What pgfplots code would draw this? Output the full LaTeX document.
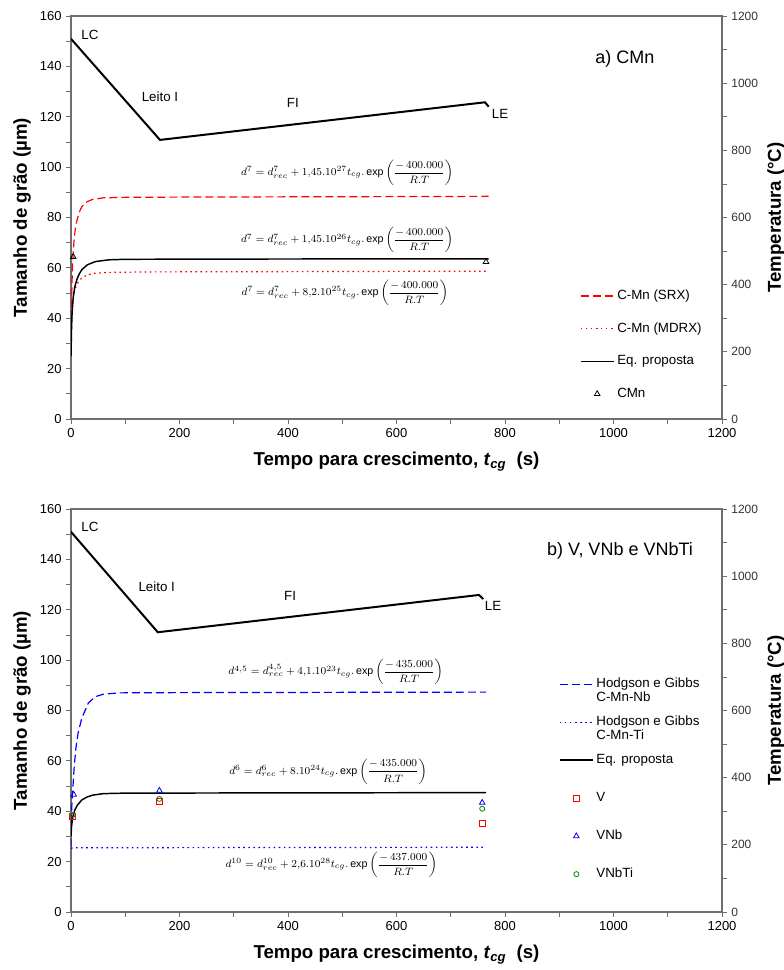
\documentclass[border=0pt]{standalone}
\usepackage{fontspec}
\setmainfont{Liberation Sans}
\usepackage{amsmath}
\usepackage{pgfplots}
\pgfplotsset{compat=1.18}

\definecolor{axgray}{RGB}{110,110,110}
\definecolor{mkgreen}{RGB}{0,140,0}

\tikzset{
  eqtext/.style={font=\fontsize{8}{10}\selectfont},
  lbl/.style={font=\fontsize{10}{12}\selectfont},
}

\pgfplotsset{
  common/.style={
    scale only axis, width=488.25pt, height=302.25pt,
    xmin=0, xmax=1200,
    tick align=outside,
    major tick length=3.5pt, minor tick length=3.5pt,
    axis line style={axgray, line width=0.8pt}, tick style={axgray, line width=0.6pt},
    /pgf/number format/assume math mode=true,
    /pgf/number format/1000 sep={},
    label style={font=\fontsize{14}{16}\selectfont\bfseries},
  },
  panel/.style={
    common,
    ymin=0, ymax=160,
    xtick={0,200,...,1200}, minor x tick num=1,
    ytick={0,20,...,160}, minor y tick num=1,
    xtick pos=bottom, ytick pos=left,
    tick label style={font=\fontsize{9.75}{11}\selectfont},
    xlabel={Tempo para crescimento, \textit{t}\textsubscript{\textit{cg}}\ \ (s)},
    ylabel={Tamanho de grão (µm)},
    xlabel style={yshift=-4pt},
    legend cell align=left,
    legend image code/.code={\draw[mark repeat=2,mark phase=2,##1] plot coordinates {(0pt,0pt) (12.5pt,0pt) (25pt,0pt)};},
  },
  temp/.style={
    common,
    ymin=0, ymax=1200,
    axis x line=none, axis y line*=right,
    ytick={0,200,...,1200}, minor y tick num=1,
    yticklabel style={font=\fontsize{9}{11}\selectfont, black!80},
    ylabel={Temperatura (°C)},
  },
  srx/.style={red, line width=0.9pt, dash pattern=on 6pt off 3pt},
  mdrx/.style={red, line width=0.9pt, dash pattern=on 1.2pt off 2.6pt},
  eqp/.style={black, line width=1.1pt},
  tline/.style={black, line width=1.5pt},
}

\begin{document}
\begin{tikzpicture}
\useasboundingbox (0,0) rectangle (587.25pt,727.5pt);

% ---------------- panel a) CMn ----------------
\begin{axis}[panel, at={(53.25pt,413.25pt)}, anchor=south west,
  legend style={at={(0.775,0.335)}, anchor=north west, draw=none, fill=none,
    font=\fontsize{10}{11}\selectfont, row sep=11pt,
    nodes={text height=7.5pt, text depth=2pt}}]
\addplot[srx] coordinates {
  (0,30) (1,45) (2,55) (3,62) (4,66) (6,72) (8,75.5) (10,78) (15,82) (20,84.3)
  (30,86.3) (40,87.2) (60,87.8) (100,88.0) (200,88.1) (400,88.2) (600,88.3) (770,88.4)};
\addplot[mdrx] coordinates {
  (0,28) (1,38) (2,43) (4,48) (6,50.5) (10,53) (15,55) (22,56.3) (30,57.2)
  (45,57.9) (70,58.2) (150,58.4) (400,58.5) (770,58.7)};
\addplot[eqp] coordinates {
  (0,25) (1,36) (2,42) (4,48) (7,52.5) (11,55.5) (15,57.5) (20,59.3) (30,61.2)
  (45,62.5) (70,63.2) (100,63.4) (300,63.5) (770,63.6)};
\addplot[only marks, black, mark=triangle, mark size=2.4pt, mark options={line width=0.6pt}]
  coordinates {(4,64.4) (765,62.4)};
\legend{C-Mn (SRX), C-Mn (MDRX), Eq. proposta, CMn}

\node[lbl] at (axis cs:35,152.6) {LC};
\node[lbl] at (axis cs:164,128) {Leito I};
\node[lbl] at (axis cs:409,125.5) {FI};
\node[lbl] at (axis cs:791,121) {LE};
\node[font=\fontsize{13.5}{15}\selectfont] at (axis cs:1021,143) {a) CMn};

\node[eqtext] at (axis cs:509,97.7) {$d^{7}=d_{rec}^{7}+1{,}45.10^{27}t_{cg}.\exp\left(\dfrac{-\,400.000}{R.T}\right)$};
\node[eqtext] at (axis cs:509,71) {$d^{7}=d_{rec}^{7}+1{,}45.10^{26}t_{cg}.\exp\left(\dfrac{-\,400.000}{R.T}\right)$};
\node[eqtext] at (axis cs:505,50) {$d^{7}=d_{rec}^{7}+8{,}2.10^{25}t_{cg}.\exp\left(\dfrac{-\,400.000}{R.T}\right)$};
\end{axis}

\begin{axis}[temp, at={(53.25pt,413.25pt)}, anchor=south west]
\addplot[tline] coordinates {(0,1132) (164,831) (763,943) (770,930)};
\end{axis}

% ---------------- panel b) V, VNb e VNbTi ----------------
\begin{axis}[panel, at={(53.25pt,43.5pt)}, anchor=south west,
  legend style={at={(0.743,0.595)}, anchor=north west, draw=none, fill=none,
    font=\fontsize{10}{10.5}\selectfont, row sep=15pt,
    nodes={text height=7.5pt, text depth=2pt}}]
\addplot[blue, line width=0.9pt, dash pattern=on 6pt off 3pt] coordinates {
  (0,26) (1,38) (2,45) (4,51) (6,58) (9,65) (13,71) (20,77) (32,83) (45,85.5)
  (60,86.5) (90,87) (200,87.1) (765,87.3)};
\addplot[blue, line width=0.9pt, dash pattern=on 1.2pt off 2.6pt] coordinates {
  (0,25.3) (5,25.5) (765,25.7)};
\addplot[eqp] coordinates {
  (0,30) (1,34) (3,37.5) (7,40.5) (12,42.5) (20,44.5) (29,45.6) (40,46.4)
  (60,47) (100,47.2) (765,47.4)};
\addplot[only marks, red, mark=square, mark size=2.2pt, mark options={line width=0.6pt}]
  coordinates {(3,38) (163,43.8) (758,35.1)};
\addplot[only marks, blue, mark=triangle, mark size=2.4pt, mark options={line width=0.6pt}]
  coordinates {(5,46.6) (163,48.2) (758,43.4)};
\addplot[only marks, mkgreen, mark=o, mark size=1.9pt, mark options={line width=0.6pt}]
  coordinates {(3,38.6) (163,44.9) (758,41)};
\legend{\vtop{\hbox{Hodgson e Gibbs}\hbox{C-Mn-Nb}},
        \vtop{\hbox{Hodgson e Gibbs}\hbox{C-Mn-Ti}},
        Eq. proposta, V, VNb, VNbTi}

\node[lbl] at (axis cs:35,153) {LC};
\node[lbl] at (axis cs:158,129) {Leito I};
\node[lbl] at (axis cs:404,125.5) {FI};
\node[lbl] at (axis cs:778,121.5) {LE};
\node[font=\fontsize{13.5}{15}\selectfont] at (axis cs:1012,143.4) {b) V, VNb e VNbTi};

\node[eqtext] at (axis cs:488,95.2) {$d^{4{,}5}=d_{rec}^{4{,}5}+4{,}1.10^{23}t_{cg}.\exp\left(\dfrac{-\,435.000}{R.T}\right)$};
\node[eqtext] at (axis cs:474,55.8) {$d^{6}=d_{rec}^{6}+8.10^{24}t_{cg}.\exp\left(\dfrac{-\,435.000}{R.T}\right)$};
\node[eqtext] at (axis cs:480,18.7) {$d^{10}=d_{rec}^{10}+2{,}6.10^{28}t_{cg}.\exp\left(\dfrac{-\,437.000}{R.T}\right)$};
\end{axis}

\begin{axis}[temp, at={(53.25pt,43.5pt)}, anchor=south west]
\addplot[tline] coordinates {(0,1132) (160,833) (752,944) (760,932)};
\end{axis}
\end{tikzpicture}
\end{document}
